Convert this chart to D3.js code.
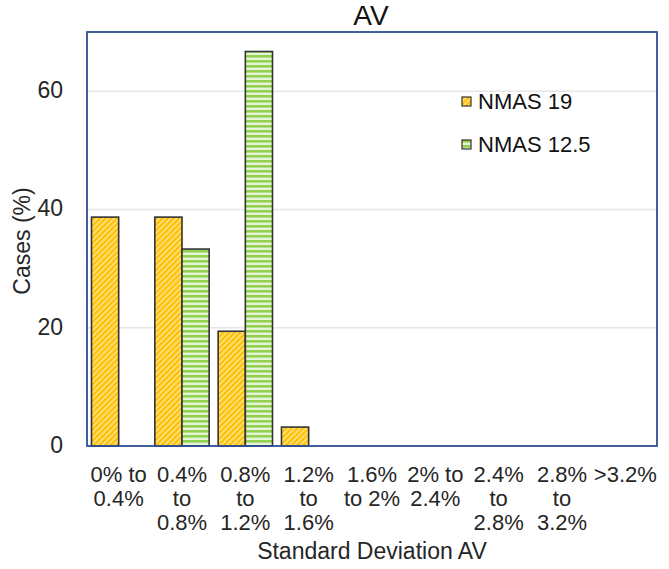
<!DOCTYPE html>
<html>
<head>
<meta charset="utf-8">
<script src="https://cdn.jsdelivr.net/npm/d3@7"></script>
<style>
  html, body { margin: 0; padding: 0; background: #fff; }
  svg { display: block; font-family: "Liberation Sans", Arial, sans-serif; }
</style>
</head>
<body>
<svg id="chart" width="669" height="569"></svg>
<script>
const categories = ["0% to\n0.4%", "0.4%\nto\n0.8%", "0.8%\nto\n1.2%", "1.2%\nto\n1.6%", "1.6%\nto 2%", "2% to\n2.4%", "2.4%\nto\n2.8%", "2.8%\nto\n3.2%", ">3.2%"];
const seriesNames = ["NMAS 19", "NMAS 12.5"];
const nmas19 = [38.7, 38.7, 19.4, 3.2, 0, 0, 0, 0, 0];
const nmas125 = [0, 33.3, 66.7, 0, 0, 0, 0, 0, 0];
const yTicks = [0, 20, 40, 60];
const chartTitle = "AV";
const xTitle = "Standard Deviation AV";
const yTitle = "Cases (%)";

const svg = d3.select("#chart");
const m = { left: 87, right: 657, top: 32, bottom: 446 };

// patterns
const defs = svg.append("defs");
const pOr = defs.append("pattern").attr("id", "hatchOrange").attr("patternUnits", "userSpaceOnUse")
  .attr("width", 4).attr("height", 4).attr("patternTransform", "rotate(45)");
pOr.append("rect").attr("width", 4).attr("height", 4).attr("fill", "#FFE38A");
pOr.append("rect").attr("width", 2.3).attr("height", 4).attr("fill", "#FFC000");

const pGr = defs.append("pattern").attr("id", "hatchGreen").attr("patternUnits", "userSpaceOnUse")
  .attr("width", 6).attr("height", 5);
pGr.append("rect").attr("width", 6).attr("height", 5).attr("fill", "#E6F5D6");
pGr.append("rect").attr("y", 0).attr("width", 6).attr("height", 2.6).attr("fill", "#92D050");

const fills = ["url(#hatchOrange)", "url(#hatchGreen)"];

const x = d3.scaleBand().domain(categories).range([m.left, m.right]).paddingInner(0.142).paddingOuter(0.071);
const xs = d3.scaleBand().domain(seriesNames).range([0, x.bandwidth()]);
const y = d3.scaleLinear().domain([0, 70]).range([m.bottom, m.top]);

// gridlines
svg.append("g").selectAll("line").data(yTicks.filter(d => d > 0)).join("line")
  .attr("x1", m.left).attr("x2", m.right)
  .attr("y1", d => y(d)).attr("y2", d => y(d))
  .attr("stroke", "#e6e6e6").attr("stroke-width", 1.5);

// bars
const data = [];
categories.forEach((c, i) => {
  [nmas19, nmas125].forEach((arr, s) => {
    if (arr[i] > 0) data.push({ c, s: seriesNames[s], si: s, v: arr[i] });
  });
});
svg.append("g").selectAll("rect").data(data).join("rect")
  .attr("x", d => x(d.c) + xs(d.s))
  .attr("y", d => y(d.v))
  .attr("width", xs.bandwidth())
  .attr("height", d => y(0) - y(d.v))
  .attr("fill", d => fills[d.si])
  .attr("stroke", "#333").attr("stroke-width", 1.6);

// y axis ticks labels
const yAxis = d3.axisLeft(y).tickValues(yTicks).tickSize(0).tickPadding(24);
const gy = svg.append("g").attr("transform", `translate(${m.left},0)`).call(yAxis);
gy.select(".domain").remove();
gy.selectAll("text").attr("font-size", 23).attr("fill", "#262626").attr("dy", "0.28em")
  .attr("font-family", "'Liberation Sans', Arial, sans-serif");

// x axis labels (multi-line)
const xAxis = d3.axisBottom(x).tickSize(0).tickFormat("");
const gx = svg.append("g").attr("transform", `translate(0,${m.bottom})`).call(xAxis);
gx.select(".domain").remove();
gx.selectAll(".tick").each(function (d) {
  const lines = d.split("\n");
  const t = d3.select(this).append("text")
    .attr("text-anchor", "middle").attr("fill", "#262626")
    .attr("font-size", 22).attr("font-family", "'Liberation Sans', Arial, sans-serif");
  lines.forEach((ln, k) => {
    t.append("tspan").attr("x", 0).attr("y", 36 + k * 24).text(ln);
  });
});

// frame
svg.append("rect").attr("x", m.left).attr("y", m.top)
  .attr("width", m.right - m.left).attr("height", m.bottom - m.top)
  .attr("fill", "none").attr("stroke", "#2F4E93").attr("stroke-width", 1.8);

// titles
svg.append("text").attr("x", 371).attr("y", 25).attr("text-anchor", "middle")
  .attr("font-size", 28).attr("fill", "#111").text(chartTitle);
svg.append("text").attr("x", 372).attr("y", 559).attr("text-anchor", "middle")
  .attr("font-size", 23).attr("fill", "#262626").text(xTitle);
svg.append("text").attr("transform", `translate(30,241) rotate(-90)`)
  .attr("text-anchor", "middle").attr("font-size", 23).attr("fill", "#262626").text(yTitle);

// legend
const lg = svg.append("g").attr("transform", "translate(462,97)");
seriesNames.forEach((n, i) => {
  const g = lg.append("g").attr("transform", `translate(0,${i * 43})`);
  g.append("rect").attr("x", 0).attr("y", 0).attr("width", 9).attr("height", 9)
    .attr("fill", fills[i]).attr("stroke", "#333").attr("stroke-width", 1.2);
  g.append("text").attr("x", 16).attr("y", 12).attr("font-size", 22).attr("fill", "#111").text(n);
});
</script>
</body>
</html>
